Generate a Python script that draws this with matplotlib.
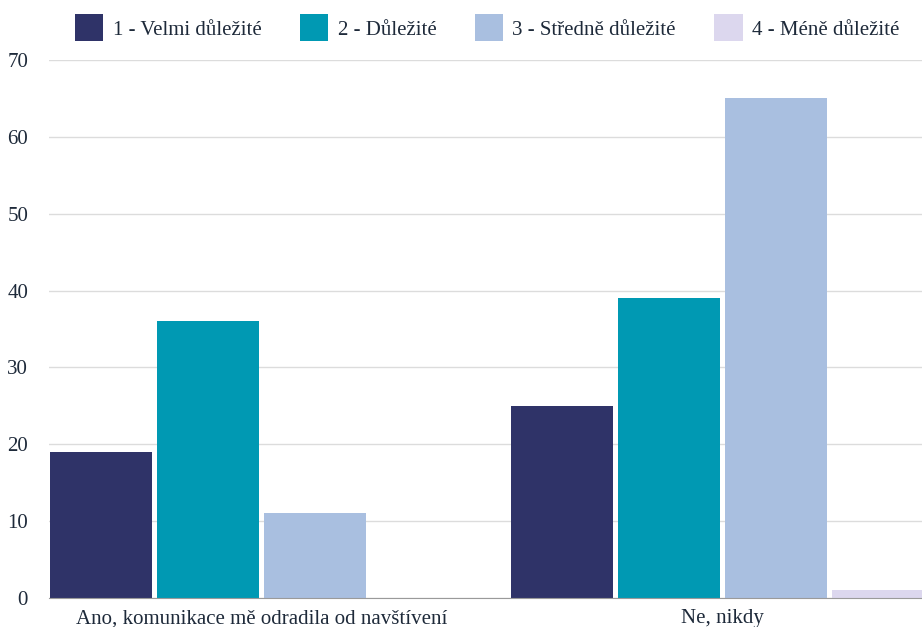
import matplotlib.pyplot as plt
from matplotlib.patches import Patch
import numpy as np

# data
categories = ["Ano, komunikace mě odradila od navštívení", "Ne, nikdy"]
series_names = ["1 - Velmi důležité", "2 - Důležité", "3 - Středně důležité", "4 - Méně důležité"]
velmi = [19, 25]
dulezite = [36, 39]
stredne = [11, 65]
mene = [0, 1]
series_values = [velmi, dulezite, stredne, mene]
colors = ["#2f3368", "#0099b3", "#a9bfe0", "#dcd7ee"]
y_ticks = [0, 10, 20, 30, 40, 50, 60, 70]

text_color = "#1e2a3a"
plt.rcParams['font.family'] = ['Liberation Serif', 'DejaVu Serif']

my_dpi = 100
fig = plt.figure(figsize=(922 / my_dpi, 627 / my_dpi), dpi=my_dpi)
ax = fig.add_axes([0.0531, 0.0463, 0.9469, 0.858])

x = np.arange(len(categories))
bar_w = 0.221
step = 0.232
offsets = [-1.5 * step, -0.5 * step, 0.5 * step, 1.5 * step]
for vals, off, col in zip(series_values, offsets, colors):
    ax.bar(x + off, vals, width=bar_w, color=col, zorder=3)

ax.set_xlim(-0.461, 1.4328)
ax.set_ylim(0, 70)
ax.set_yticks(y_ticks)
ax.set_xticks(x)
ax.set_xticklabels(categories)

ax.grid(axis="y", color="#dcdcdc", linewidth=1, zorder=0)
for s in ["top", "right", "left"]:
    ax.spines[s].set_visible(False)
ax.spines["bottom"].set_color("#9a9a9a")
ax.spines["bottom"].set_zorder(4)

ax.tick_params(axis="both", length=0, labelsize=15, colors=text_color)
ax.tick_params(axis="y", pad=15)
ax.tick_params(axis="x", pad=8)

handles = [Patch(facecolor=c, edgecolor="none") for c in colors]
fig.legend(handles, series_names, loc="upper center", bbox_to_anchor=(0.5285, 1.007),
           ncol=4, frameon=False, fontsize=15, labelcolor=text_color,
           handlelength=1.35, handleheight=1.6, handletextpad=0.45, columnspacing=1.85)

plt.savefig("out.png", dpi=my_dpi)
